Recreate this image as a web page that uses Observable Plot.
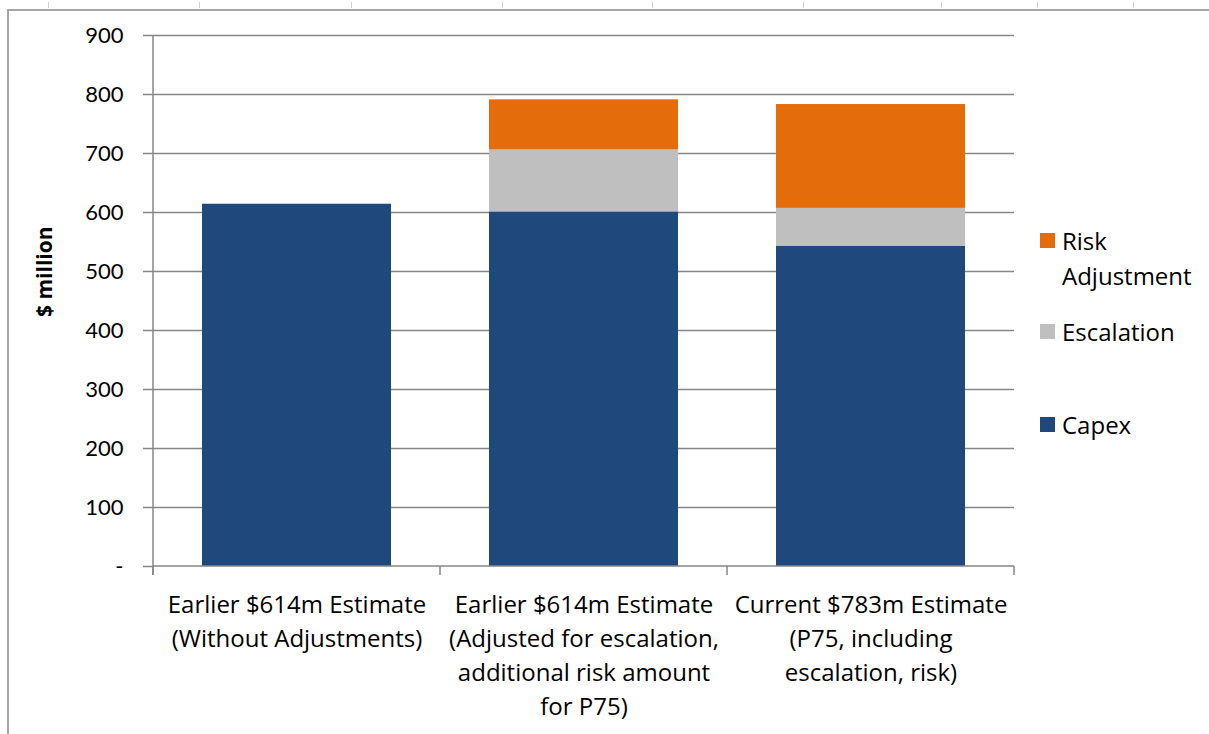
<!DOCTYPE html>
<html>
<head>
<meta charset="utf-8">
<script src="https://cdn.jsdelivr.net/npm/d3@7"></script>
<script src="https://cdn.jsdelivr.net/npm/@observablehq/plot@0.6"></script>
<style>
  html, body { margin: 0; padding: 0; background: #fff; }
  #wrap { position: relative; width: 1209px; height: 734px; overflow: hidden; font-family: "Open Sans", Lato, sans-serif; }
  #frame { position: absolute; left: 7px; top: 9px; width: 1300px; height: 800px;
           border-left: 2px solid #a6a6a6; border-top: 2px solid #a6a6a6; }
  .col { position: absolute; top: 2px; width: 1px; height: 6px; background: #d0d0d0; }
  #chart { position: absolute; left: 0; top: 0; }
  .legend { position: absolute; left: 1040px; font-size: 24px; color: #000; line-height: 35px; }
  .legend .sw { position: absolute; left: 0; top: 10px; width: 15px; height: 15px; }
  .legend .lab { margin-left: 22px; }
</style>
</head>
<body>
<div id="wrap">
  <div id="frame"></div>
  <div id="chart"></div>
</div>
<script>
// Stacked cost estimates, $ million
const categories = [
  "Earlier $614m Estimate\n(Without Adjustments)",
  "Earlier $614m Estimate\n(Adjusted for escalation,\nadditional risk amount\nfor P75)",
  "Current $783m Estimate\n(P75, including\nescalation, risk)"
];
const components = ["Capex", "Escalation", "Risk Adjustment"];
const capex = [614, 601, 543];
const escalation = [0, 105, 64];
const riskAdjustment = [0, 85, 176];
const componentColors = ["#1F497D", "#BFBFBF", "#E46C0A"];
const yTicks = [0, 100, 200, 300, 400, 500, 600, 700, 800, 900];
const sheetColumns = [48, 199, 351, 502, 652, 803, 941, 1037, 1133];

const rows = categories.flatMap((category, i) => [
  {category, component: "Capex", value: capex[i]},
  {category, component: "Escalation", value: escalation[i]},
  {category, component: "Risk Adjustment", value: riskAdjustment[i]}
]);

const wrap = document.getElementById("wrap");
// spreadsheet column markers along the top edge
for (const x of sheetColumns) {
  const d = document.createElement("div");
  d.className = "col";
  d.style.left = x + "px";
  wrap.appendChild(d);
}

const gridColor = "#868686";

// vertical axis line and category boundary ticks, drawn from the band scale
function axisLines(index, scales, values, dim) {
  const x = scales.x, y = scales.y;
  const step = x.step(), bw = x.bandwidth();
  const g = d3.create("svg:g").attr("stroke", gridColor).attr("stroke-width", 1.5);
  const y0 = y(0);
  g.append("line").attr("x1", dim.marginLeft).attr("x2", dim.marginLeft)
    .attr("y1", y(900)).attr("y2", y0 + 9);
  g.append("line").attr("x1", dim.marginLeft).attr("x2", dim.width - dim.marginRight)
    .attr("y1", y0).attr("y2", y0);
  const edges = categories.map(c => x(c) + bw / 2 - step / 2);
  edges.push(x(categories[categories.length - 1]) + bw / 2 + step / 2);
  for (const e of edges) {
    g.append("line").attr("x1", e).attr("x2", e).attr("y1", y0).attr("y2", y0 + 9);
  }
  return g.node();
}

const chart = Plot.plot({
  width: 1209,
  height: 734,
  marginLeft: 153,
  marginRight: 195,
  marginTop: 35,
  marginBottom: 168,
  style: {fontFamily: "Lato, 'Open Sans', sans-serif", fontSize: "22px", color: "#000", background: "transparent", overflow: "visible"},
  x: {domain: categories, paddingInner: 0.34, paddingOuter: 0.17, axis: null},
  y: {domain: [0, 900], axis: null},
  color: {domain: components, range: componentColors},
  marks: [
    Plot.ruleY(yTicks.filter(d => d > 0), {stroke: gridColor, strokeWidth: 1.5}),
    Plot.barY(rows, Plot.stackY({x: "category", y: "value", fill: "component", order: components})),
    axisLines,
    Plot.axisY({
      ticks: yTicks,
      tickFormat: d => d === 0 ? "-" : d3.format("d")(d),
      tickSize: 10,
      tickPadding: 20,
      stroke: gridColor,
      strokeWidth: 1.5,
      strokeOpacity: 1,
      fontSize: 22,
      label: null
    }),
    Plot.text(categories, {
      x: d => d,
      y: () => 0,
      text: d => d,
      lineAnchor: "top",
      lineHeight: 1.42,
      dy: 22,
      fontSize: 24,
      fontFamily: "'Open Sans', Lato, sans-serif",
      fill: "#000"
    }),
    Plot.text(["$ million"], {
      frameAnchor: "left",
      text: d => d,
      rotate: -90,
      dx: -108,
      dy: 16,
      fontWeight: "bold",
      fontSize: 21,
      fontFamily: "'Open Sans', Lato, sans-serif",
      fill: "#000"
    })
  ]
});
document.getElementById("chart").appendChild(chart);

// legend, top entry first
const legendRows = [
  {name: "Risk\nAdjustment", color: componentColors[2], top: 223},
  {name: "Escalation", color: componentColors[1], top: 314},
  {name: "Capex", color: componentColors[0], top: 407}
];
for (const r of legendRows) {
  const item = document.createElement("div");
  item.className = "legend";
  item.style.top = r.top + "px";
  const sw = document.createElement("div");
  sw.className = "sw";
  sw.style.background = r.color;
  const lab = document.createElement("div");
  lab.className = "lab";
  lab.innerHTML = r.name.split("\n").join("<br>");
  item.appendChild(sw);
  item.appendChild(lab);
  wrap.appendChild(item);
}
</script>
</body>
</html>
